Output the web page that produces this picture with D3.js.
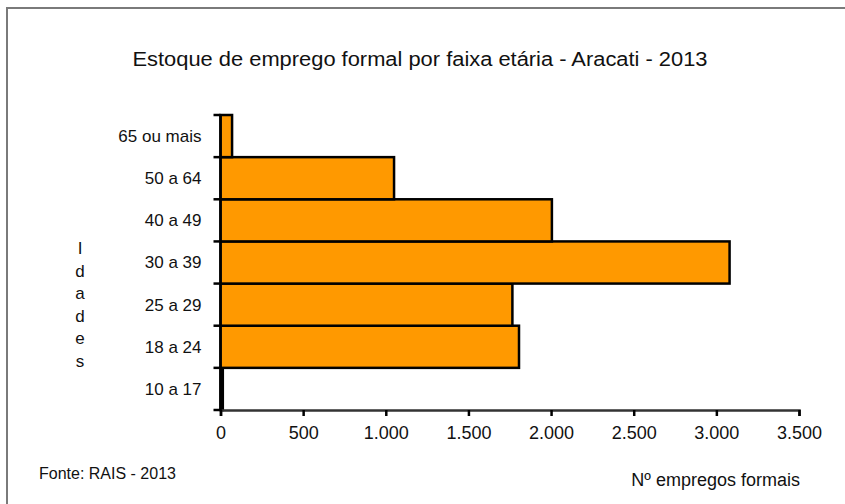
<!DOCTYPE html>
<html>
<head>
<meta charset="utf-8">
<script src="https://cdn.jsdelivr.net/npm/d3@7"></script>
<style>
  body { margin: 0; background: #fff; }
  svg text { font-family: "Liberation Sans", Arial, sans-serif; fill: #111; }
</style>
</head>
<body>
<svg id="chart" width="845" height="504"></svg>
<script>
// faixas etarias, de baixo para cima
const faixas = ['10 a 17', '18 a 24', '25 a 29', '30 a 39', '40 a 49', '50 a 64', '65 ou mais'];
const empregos = [14, 1806, 1766, 3080, 2005, 1050, 70];
const xTicks = [0, 500, 1000, 1500, 2000, 2500, 3000, 3500];
const eixoY = ['I', 'd', 'a', 'd', 'e', 's'];

const svg = d3.select('#chart');

// moldura
svg.append('rect').attr('x', 7).attr('y', 8).attr('width', 850).attr('height', 510)
   .attr('fill', 'none').attr('stroke', '#7a7a7a').attr('stroke-width', 2);

const margin = {top: 115, left: 220.5, right: 46, bottom: 94};
const width = 845 - margin.left - margin.right;
const height = 504 - margin.top - margin.bottom;

const g = svg.append('g').attr('transform', 'translate(' + margin.left + ',' + margin.top + ')');

const x = d3.scaleLinear().domain([0, 3500]).range([0, width]);
const y = d3.scaleBand().domain(faixas.slice().reverse()).range([0, height]).padding(0);

const data = faixas.map((f, i) => ({faixa: f, valor: empregos[i]}));

// barras
g.selectAll('rect.bar').data(data).enter().append('rect')
  .attr('class', 'bar')
  .attr('x', 0)
  .attr('y', d => y(d.faixa))
  .attr('width', d => x(d.valor))
  .attr('height', y.bandwidth())
  .attr('fill', '#ff9900')
  .attr('stroke', '#000')
  .attr('stroke-width', 2.5);

// eixo X
const xAxis = g.append('g').attr('transform', 'translate(0,' + height + ')')
  .call(d3.axisBottom(x).tickValues(xTicks).tickSize(6).tickPadding(10)
    .tickFormat(d => d3.format(',')(d).replace(/,/g, '.')));
xAxis.select('.domain').attr('stroke', '#333').attr('stroke-width', 2.5);
xAxis.selectAll('.tick line').attr('stroke', '#000').attr('stroke-width', 2.5);
xAxis.selectAll('.tick text').attr('font-size', 18).attr('fill', '#111');

// eixo Y (marcas nos limites das faixas)
const yAxis = g.append('g');
yAxis.append('line').attr('x1', 0).attr('x2', 0).attr('y1', 0).attr('y2', height)
  .attr('stroke', '#000').attr('stroke-width', 2.5);
const limites = y.domain().map(f => y(f)).concat([height]);
yAxis.selectAll('line.tk').data(limites).enter().append('line').attr('class', 'tk')
  .attr('x1', -7).attr('x2', 0).attr('y1', d => d).attr('y2', d => d)
  .attr('stroke', '#000').attr('stroke-width', 2.5);
yAxis.selectAll('text').data(y.domain()).enter().append('text')
  .attr('x', -19).attr('y', d => y(d) + y.bandwidth() / 2)
  .attr('dy', '0.35em').attr('text-anchor', 'end').attr('font-size', 17)
  .text(d => d);

// titulo
svg.append('text').attr('x', 420).attr('y', 66).attr('text-anchor', 'middle')
  .attr('font-size', 20).attr('textLength', 575).attr('lengthAdjust', 'spacingAndGlyphs')
  .text('Estoque de emprego formal por faixa etária - Aracati - 2013');

// rotulo vertical
svg.selectAll('text.idades').data(eixoY).enter().append('text').attr('class', 'idades')
  .attr('x', 80).attr('y', (d, i) => 254 + i * 22.6).attr('text-anchor', 'middle')
  .attr('font-size', 17).text(d => d);

svg.append('text').attr('x', 39).attr('y', 479).attr('font-size', 16).text('Fonte: RAIS - 2013');
svg.append('text').attr('x', 800).attr('y', 486).attr('text-anchor', 'end')
  .attr('font-size', 18).text('Nº empregos formais');
</script>
</body>
</html>
